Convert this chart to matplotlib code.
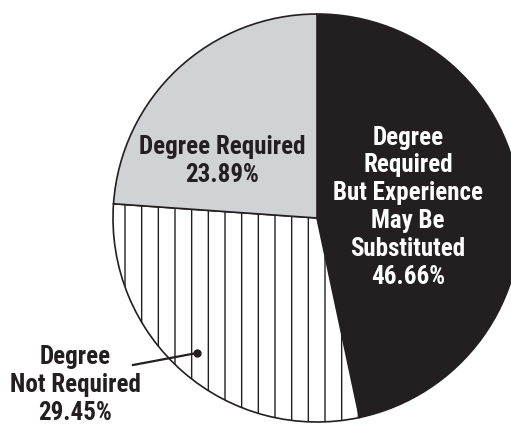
import matplotlib.pyplot as plt

# Share of postings by education requirement
labels = ["Degree\nRequired\nBut Experience\nMay Be\nSubstituted", "Degree\nNot Required", "Degree Required"]
shares = [46.66, 29.45, 23.89]
colors = ["#231f20", "white", "#d1d2d4"]
hatches = [None, "|", None]

W, H = 511, 424
fig = plt.figure(figsize=(W / 100, H / 100), dpi=100)
ax = fig.add_axes([0, 0, 1, 1])

plt.rcParams["hatch.linewidth"] = 1.0

wedges, _ = ax.pie(shares, colors=colors, startangle=90, counterclock=False,
                   center=(317, H - 218), radius=204, frame=True,
                   wedgeprops=dict(edgecolor="#231f20", linewidth=1.2))
for w, h in zip(wedges, hatches):
    if h:
        w.set_hatch(h)
ax.set_xlim(0, W)
ax.set_ylim(0, H)
ax.axis("off")

font = dict(family=["Roboto Condensed", "DejaVu Sans"], fontweight="bold",
            fontsize=18, ha="center", va="center", linespacing=1.2)

ax.text(408, H - 207, labels[0] + "\n%.2f%%" % shares[0], color="white", **font)
ax.text(75, H - 385, labels[1] + "\n%.2f%%" % shares[1], color="#231f20", **font)
ax.text(222, H - 161, labels[2] + "\n%.2f%%" % shares[2], color="#231f20", **font)

# leader line from the label into the hatched slice
ax.plot([133, 197], [H - 365, H - 353], color="#231f20", linewidth=1.6)
ax.plot([197], [H - 353], "o", color="#231f20", markersize=5)

fig.savefig("out.png", dpi=100)
